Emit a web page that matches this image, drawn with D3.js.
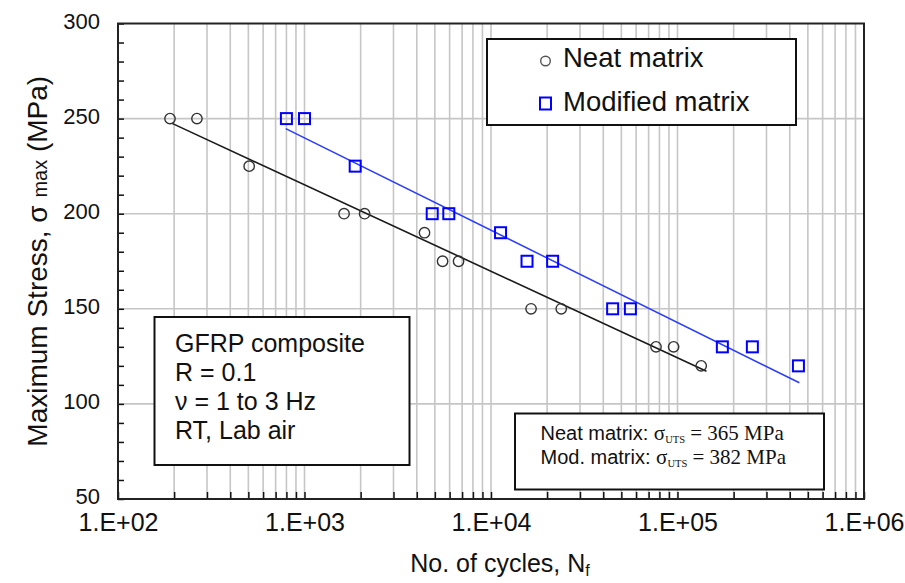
<!DOCTYPE html>
<html>
<head>
<meta charset="utf-8">
<script src="https://cdn.jsdelivr.net/npm/d3@7"></script>
<style>
  html, body { margin: 0; padding: 0; background: #fff; }
  svg { display: block; }
  text { font-family: "Liberation Sans", Arial, sans-serif; fill: #111; }
</style>
</head>
<body>
<svg id="chart" width="905" height="583"></svg>
<script>
// S-N fatigue data, GFRP composite
const neatCycles   = [190, 265, 505, 1630, 2100, 4400, 5500, 6700, 16400, 23800, 76700, 95300, 134000];
const neatStress   = [250, 250, 225, 200, 200, 190, 175, 175, 150, 150, 130, 130, 120];
const modCycles    = [800, 1000, 1870, 4840, 5940, 11250, 15600, 21400, 44900, 55900, 174000, 252000, 445000];
const modStress    = [250, 250, 225, 200, 200, 190, 175, 175, 150, 150, 130, 130, 120];

// Semi-log fit lines (end points)
const neatFitCycles = [195, 143000];
const neatFitStress = [247.5, 117.2];
const modFitCycles  = [793, 450000];
const modFitStress  = [244.7, 111.1];

const yTickLabels = [50, 100, 150, 200, 250, 300];
const xTickLabels = [1e2, 1e3, 1e4, 1e5, 1e6];
const seriesNames = ["Neat matrix", "Modified matrix"];
const infoLines = ["GFRP composite", "R = 0.1", "\u03BD = 1 to 3 Hz", "RT, Lab air"];
const utsNames  = ["Neat matrix: ", "Mod. matrix: "];
const utsValues = [365, 382];

const svg = d3.select("#chart");
const L = 118, R = 864, T = 23.5, B = 499;

const x = d3.scaleLog().domain([1e2, 1e6]).range([L, R]);
const y = d3.scaleLinear().domain([50, 300]).range([B, T]);

// minor/major positions for the log axis
const logVals = [];
for (let k = 2; k <= 5; k++) for (let m = 1; m <= 9; m++) logVals.push(m * Math.pow(10, k));
logVals.push(1e6);

const grid = svg.append("g").attr("stroke", "#c6c6c6").attr("stroke-width", 1.6);
grid.selectAll("line.v").data(logVals.filter(v => v > 1e2 && v < 1e6)).join("line")
  .attr("x1", d => x(d)).attr("x2", d => x(d)).attr("y1", T).attr("y2", B);
grid.selectAll("line.h").data(yTickLabels.filter(v => v > 50 && v < 300)).join("line")
  .attr("x1", L).attr("x2", R).attr("y1", d => y(d)).attr("y2", d => y(d));

// axes with inward ticks
const yTicks = d3.range(50, 301, 10);
const yAxis = svg.append("g").attr("transform", `translate(${L},0)`)
  .call(d3.axisLeft(y).tickValues(yTicks).tickSize(-6).tickPadding(18)
    .tickFormat(d => yTickLabels.includes(d) ? d : ""));
yAxis.select(".domain").remove();
yAxis.selectAll(".tick line").attr("stroke", "#111").attr("stroke-width", 1.5);
yAxis.selectAll(".tick text").attr("font-size", 22).attr("font-family", "Liberation Sans, Arial, sans-serif")
  .attr("fill", "#111").attr("dy", "0.22em");

const xAxis = svg.append("g").attr("transform", `translate(0,${B})`)
  .call(d3.axisBottom(x).tickValues(logVals).tickSize(-7).tickPadding(15)
    .tickFormat(d => xTickLabels.includes(d) ? "1.E+" + String(Math.round(Math.log10(d))).padStart(2, "0") : ""));
xAxis.select(".domain").remove();
xAxis.selectAll(".tick line").attr("stroke", "#111").attr("stroke-width", 1.5);
xAxis.selectAll(".tick text").attr("font-size", 25).attr("font-family", "Liberation Sans, Arial, sans-serif")
  .attr("fill", "#111").attr("dy", "0.68em");

// plot frame
svg.append("rect").attr("x", L).attr("y", T).attr("width", R - L).attr("height", B - T)
  .attr("fill", "none").attr("stroke", "#222").attr("stroke-width", 2);

// fit lines
const line = d3.line().x(d => x(d[0])).y(d => y(d[1]));
svg.append("path").datum(d3.zip(neatFitCycles, neatFitStress))
  .attr("d", line).attr("fill", "none").attr("stroke", "#1a1a1a").attr("stroke-width", 1.6);
svg.append("path").datum(d3.zip(modFitCycles, modFitStress))
  .attr("d", line).attr("fill", "none").attr("stroke", "#2a3cff").attr("stroke-width", 1.5);

// data markers
svg.append("g").selectAll("circle").data(d3.zip(neatCycles, neatStress)).join("circle")
  .attr("cx", d => x(d[0])).attr("cy", d => y(d[1])).attr("r", 5.2)
  .attr("fill", "none").attr("stroke", "#333").attr("stroke-width", 1.4);
const sq = 11;
svg.append("g").selectAll("rect").data(d3.zip(modCycles, modStress)).join("rect")
  .attr("x", d => x(d[0]) - sq / 2).attr("y", d => y(d[1]) - sq / 2)
  .attr("width", sq).attr("height", sq)
  .attr("fill", "none").attr("stroke", "#0000ff").attr("stroke-width", 2);

// legend
const lg = svg.append("g");
lg.append("rect").attr("x", 487).attr("y", 39).attr("width", 309).attr("height", 86)
  .attr("fill", "#fff").attr("stroke", "#111").attr("stroke-width", 2);
lg.append("circle").attr("cx", 545.5).attr("cy", 61).attr("r", 4.8)
  .attr("fill", "none").attr("stroke", "#555").attr("stroke-width", 1.4);
lg.append("rect").attr("x", 540).attr("y", 97.5).attr("width", 11).attr("height", 12)
  .attr("fill", "none").attr("stroke", "#0000ff").attr("stroke-width", 2);
lg.selectAll("text").data(seriesNames).join("text")
  .attr("x", 563).attr("y", (d, i) => 67 + i * 43.5)
  .attr("font-size", 27.5).text(d => d);

// test conditions box
const ib = svg.append("g");
ib.append("rect").attr("x", 154.5).attr("y", 317).attr("width", 255).attr("height", 148)
  .attr("fill", "#fff").attr("stroke", "#111").attr("stroke-width", 2);
ib.selectAll("text").data(infoLines).join("text")
  .attr("x", 175).attr("y", (d, i) => 351.5 + i * 29)
  .attr("font-size", 25).text(d => d);

// ultimate strength box
const ub = svg.append("g");
ub.append("rect").attr("x", 515).attr("y", 413.5).attr("width", 309).attr("height", 76)
  .attr("fill", "#fff").attr("stroke", "#111").attr("stroke-width", 2);
utsNames.forEach((name, i) => {
  const t = ub.append("text").attr("x", 540.5).attr("y", 440 + i * 23.5);
  t.append("tspan").attr("font-size", 20).text(name);
  t.append("tspan").attr("font-family", "Liberation Serif, Times New Roman, serif").attr("font-size", 21).text("\u03C3");
  t.append("tspan").attr("font-family", "Liberation Serif, Times New Roman, serif").attr("font-size", 10.5)
    .attr("dy", 3).text("UTS");
  t.append("tspan").attr("font-family", "Liberation Serif, Times New Roman, serif").attr("font-size", 21)
    .attr("dy", -3).text(" = " + utsValues[i] + " MPa");
});

// axis titles
const xt = svg.append("text").attr("x", 500).attr("y", 571.5).attr("text-anchor", "middle").attr("font-size", 25);
xt.append("tspan").text("No. of cycles, N");
xt.append("tspan").attr("font-size", 16).attr("dy", 4).text("f");

const yt = svg.append("text").attr("transform", `translate(47,${(T + B) / 2}) rotate(-90)`)
  .attr("text-anchor", "middle").attr("font-size", 28);
yt.append("tspan").text("Maximum Stress,  \u03C3 ");
yt.append("tspan").attr("font-size", 20).text("max");
yt.append("tspan").text(" (MPa)");
</script>
</body>
</html>
